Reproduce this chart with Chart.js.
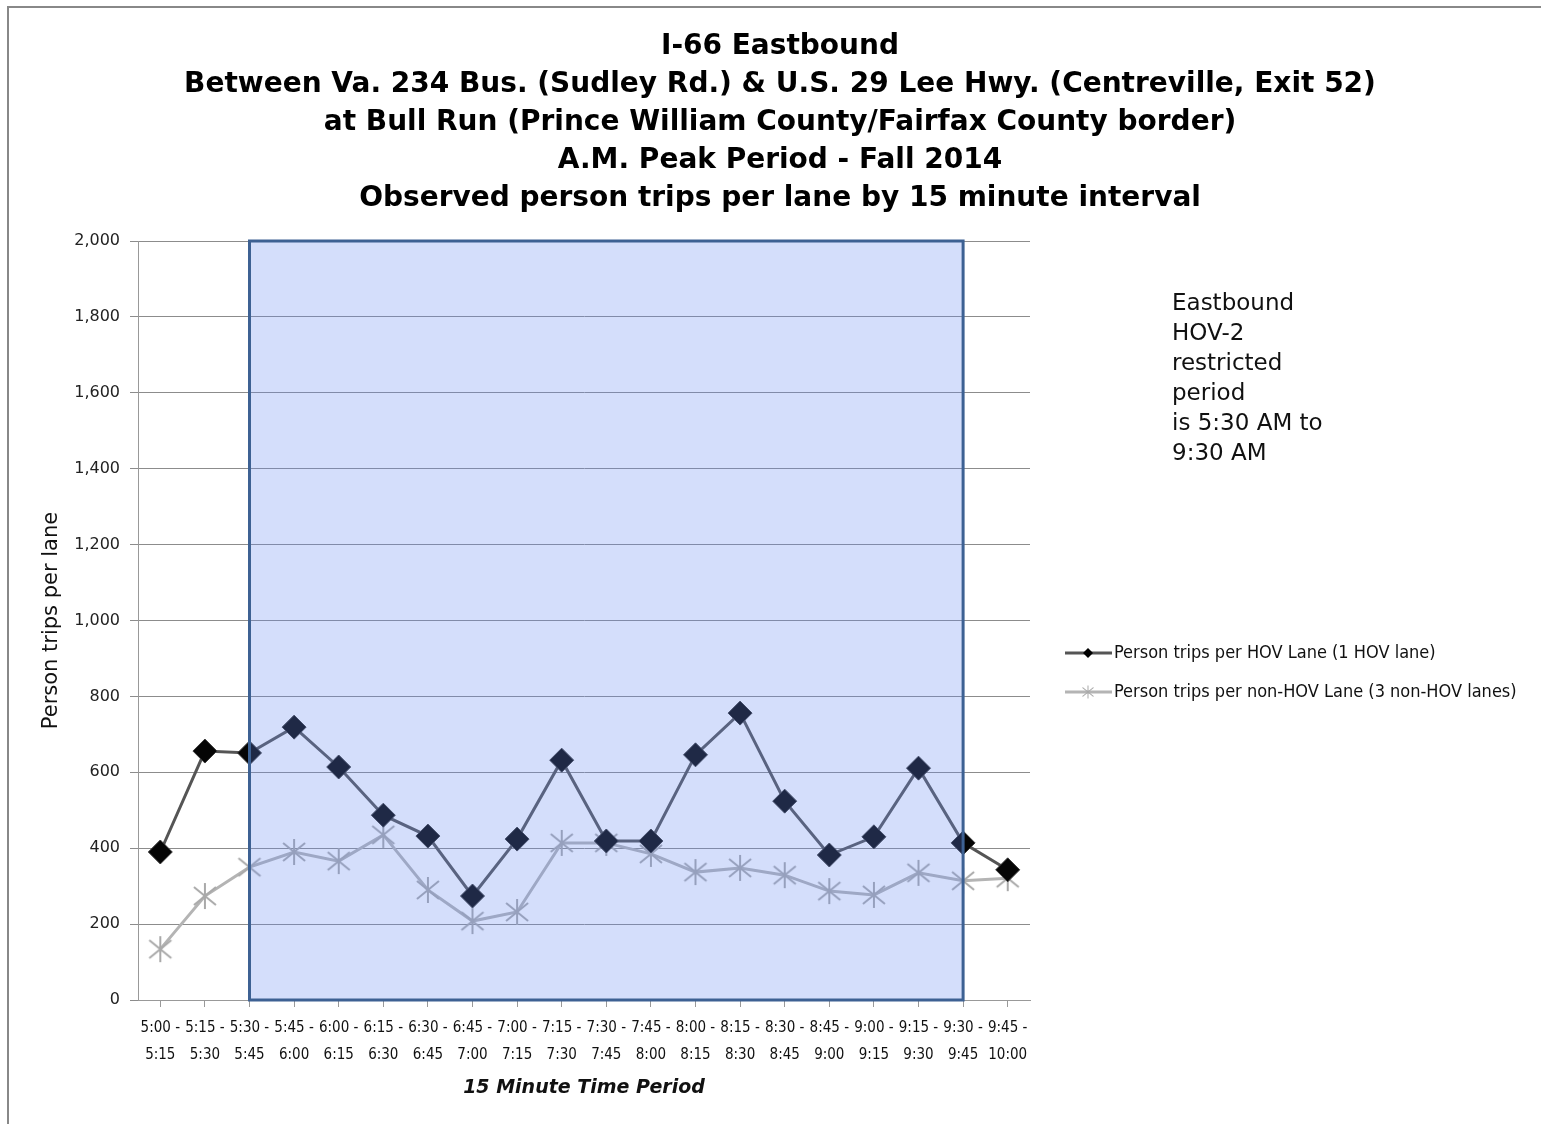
<!DOCTYPE html>
<html lang="en">
<head>
<meta charset="UTF-8">
<title>I-66 Eastbound person trips per lane</title>
<script src="https://cdn.jsdelivr.net/npm/chart.js"></script>
<style>
  html, body { margin: 0; padding: 0; background: #fff; }
  #wrap { position: relative; width: 1541px; height: 1124px; }
</style>
</head>
<body>
<div id="wrap">
  <canvas id="myChart" width="1541" height="1124"></canvas>
</div>

<script>
// data
const periods = [
  ['5:00 -', '5:15'], ['5:15 -', '5:30'], ['5:30 -', '5:45'], ['5:45 -', '6:00'],
  ['6:00 -', '6:15'], ['6:15 -', '6:30'], ['6:30 -', '6:45'], ['6:45 -', '7:00'],
  ['7:00 -', '7:15'], ['7:15 -', '7:30'], ['7:30 -', '7:45'], ['7:45 -', '8:00'],
  ['8:00 -', '8:15'], ['8:15 -', '8:30'], ['8:30 -', '8:45'], ['8:45 -', '9:00'],
  ['9:00 -', '9:15'], ['9:15 -', '9:30'], ['9:30 -', '9:45'], ['9:45 -', '10:00']
];
const hovTrips = [390, 656, 651, 719, 614, 487, 432, 274, 424, 632,
                  419, 419, 646, 756, 524, 382, 430, 611, 414, 343];
const nonHovTrips = [134, 274, 350, 390, 366, 435, 290, 208, 232, 414,
                     414, 385, 337, 348, 329, 287, 277, 335, 314, 321];
const restrictedStart = 2;   // index of 5:30 - 5:45
const restrictedEnd = 18;    // index of 9:30 - 9:45

const titleLines = [
  'I-66 Eastbound',
  'Between Va. 234 Bus. (Sudley Rd.) & U.S. 29 Lee Hwy. (Centreville, Exit 52)',
  'at Bull Run (Prince William County/Fairfax County border)',
  'A.M. Peak Period - Fall 2014',
  'Observed person trips per lane by 15 minute interval'
];
const noteLines = ['Eastbound', 'HOV-2', 'restricted', 'period', 'is 5:30 AM to', '9:30 AM'];

const condensed = '"DejaVu Sans Condensed", "DejaVu Sans", sans-serif';
const plain = '"DejaVu Sans", sans-serif';

// asterisk marker like the spreadsheet one (X plus vertical bar)
function starMarker(color) {
  const c = document.createElement('canvas');
  c.width = 28; c.height = 28;
  const g = c.getContext('2d');
  g.strokeStyle = color;
  g.lineWidth = 2;
  g.beginPath();
  g.moveTo(3, 5); g.lineTo(25, 23);
  g.moveTo(25, 5); g.lineTo(3, 23);
  g.moveTo(14, 1); g.lineTo(14, 27);
  g.stroke();
  return c;
}
const starImg = starMarker('#a9a9a9');

const frame = {
  id: 'frame',
  beforeDraw(chart) {
    const ctx = chart.ctx;
    ctx.save();
    ctx.strokeStyle = '#888';
    ctx.lineWidth = 2;
    ctx.beginPath();
    ctx.moveTo(8, chart.height);
    ctx.lineTo(8, 7);
    ctx.lineTo(chart.width, 7);
    ctx.stroke();
    ctx.restore();
  }
};

// translucent box over the HOV restricted period
const restrictedBox = {
  id: 'restrictedBox',
  afterDatasetsDraw(chart) {
    const {ctx, scales: {x, y}} = chart;
    const x0 = x.getPixelForValue(restrictedStart);
    const x1 = x.getPixelForValue(restrictedEnd);
    const y0 = y.getPixelForValue(2000);
    const y1 = y.getPixelForValue(0);
    ctx.save();
    ctx.fillStyle = 'rgba(101, 137, 240, 0.28)';
    ctx.fillRect(x0, y0, x1 - x0, y1 - y0);
    ctx.strokeStyle = '#3d6193';
    ctx.lineWidth = 3;
    ctx.strokeRect(x0, y0, x1 - x0, y1 - y0);
    ctx.restore();
  }
};

// side note + legend on the right
const sidePanel = {
  id: 'sidePanel',
  afterDraw(chart) {
    const ctx = chart.ctx;
    ctx.save();
    ctx.fillStyle = '#111';
    ctx.font = '23px ' + plain;
    ctx.textBaseline = 'middle';
    noteLines.forEach((t, i) => ctx.fillText(t, 1172, 304 + i * 30));

    const rows = [653, 692];
    chart.data.datasets.forEach((ds, i) => {
      const yy = rows[i];
      ctx.strokeStyle = ds.borderColor;
      ctx.lineWidth = 3;
      ctx.beginPath();
      ctx.moveTo(1065, yy);
      ctx.lineTo(1112, yy);
      ctx.stroke();
      if (i === 0) {
        ctx.fillStyle = '#000';
        ctx.beginPath();
        ctx.moveTo(1088, yy - 5); ctx.lineTo(1093, yy); ctx.lineTo(1088, yy + 5); ctx.lineTo(1083, yy);
        ctx.closePath();
        ctx.fill();
      } else {
        ctx.drawImage(starImg, 1081, yy - 7, 14, 14);
      }
      ctx.fillStyle = '#111';
      ctx.font = '18px ' + condensed;
      ctx.fillText(ds.label, 1114, yy);
    });
    ctx.restore();
  }
};

const data = {
  labels: periods,
  datasets: [
    {
      label: 'Person trips per HOV Lane (1 HOV lane)',
      data: hovTrips,
      borderColor: '#555555',
      borderWidth: 3,
      pointStyle: 'rectRot',
      pointRadius: 12,
      pointHoverRadius: 12,
      pointBackgroundColor: '#050505',
      pointBorderColor: '#3a3a3a',
      pointBorderWidth: 1,
      tension: 0
    },
    {
      label: 'Person trips per non-HOV Lane (3 non-HOV lanes)',
      data: nonHovTrips,
      borderColor: '#b4b4b4',
      borderWidth: 3,
      pointStyle: starImg,
      pointRadius: 12,
      tension: 0
    }
  ]
};

const config = {
  type: 'line',
  data: data,
  plugins: [frame, restrictedBox, sidePanel],
  options: {
    responsive: false,
    animation: false,
    layout: { padding: { left: 19, right: 0, top: 0, bottom: 0 } },
    plugins: {
      legend: { display: false },
      tooltip: { enabled: false },
      title: {
        display: true,
        text: titleLines,
        color: '#000',
        font: { family: plain, size: 28, weight: 'bold', lineHeight: '38px' },
        padding: { top: 28, bottom: 23 }
      }
    },
    scales: {
      x: {
        offset: true,
        grid: { display: true, drawOnChartArea: false, offset: false, tickLength: 7, color: '#999' },
        border: { color: '#999', width: 1 },
        ticks: {
          color: '#111',
          maxRotation: 0,
          autoSkip: false,
          padding: 8,
          font: { family: condensed, size: 15, lineHeight: '27px' }
        },
        title: {
          display: true,
          text: '15 Minute Time Period',
          color: '#111',
          font: { family: plain, size: 19, weight: 'bold', style: 'italic' },
          padding: { top: 0, bottom: 25 }
        },
        afterFit(scale) { scale.height = 124; }
      },
      y: {
        min: 0,
        max: 2000,
        grid: { color: '#8c8c8c', tickLength: 8, lineWidth: 1 },
        border: { color: '#999', width: 1 },
        ticks: {
          stepSize: 200,
          color: '#222',
          padding: 10,
          font: { family: plain, size: 16 },
          callback: v => v.toLocaleString('en-US')
        },
        title: {
          display: true,
          text: 'Person trips per lane',
          color: '#111',
          font: { family: plain, size: 21 },
          padding: { top: 20, bottom: 0 }
        },
        afterFit(scale) { scale.width = 119; }
      },
      // empty axis that only reserves the right-hand panel, so the
      // title stays centred on the whole figure
      spacer: {
        type: 'linear',
        position: 'right',
        display: true,
        grid: { display: false, drawTicks: false },
        border: { display: false },
        ticks: { display: false },
        afterFit(scale) { scale.width = 511; }
      }
    }
  }
};

const myChart = new Chart(document.getElementById('myChart'), config);
</script>
</body>
</html>
